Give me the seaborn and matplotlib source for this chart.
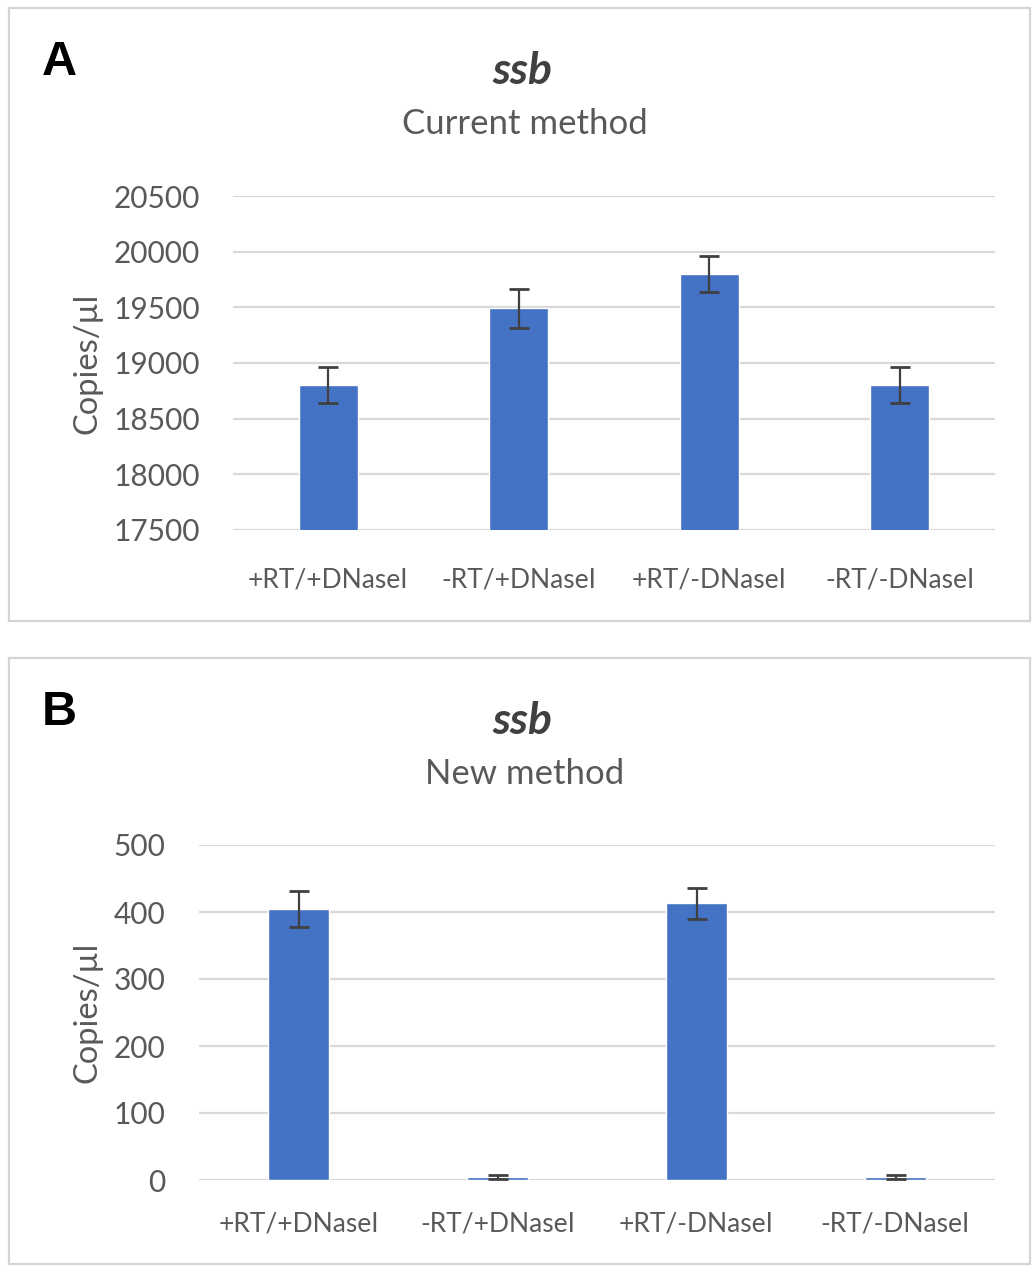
import matplotlib
matplotlib.use("Agg")
import matplotlib.pyplot as plt
import matplotlib.transforms as mtransforms
import seaborn as sns
import pandas as pd
from matplotlib.patches import Rectangle

categories = ["+RT/+DNaseI", "-RT/+DNaseI", "+RT/-DNaseI", "-RT/-DNaseI"]
current_values = [18800, 19490, 19800, 18800]
current_errors = [160, 175, 158, 160]
new_values = [405, 5, 413, 5]
new_errors = [27, 3, 23, 3]
current_ticks = [17500, 18000, 18500, 19000, 19500, 20000, 20500]
new_ticks = [0, 100, 200, 300, 400, 500]

sns.set_theme(style="white")
plt.rcParams["font.family"] = ["Lato", "DejaVu Sans"]

W, H = 1033, 1266
fig = plt.figure(figsize=(W / 100, H / 100), dpi=100)
fig.patch.set_facecolor("white")

BAR = "#4472C4"
GRID = "#D9D9D9"
TXT = "#595959"


def fx(px):
    return px / W


def fy(py):
    return 1 - py / H


def panel(df_vals, errs, ticks, ylim, axrect, box, letter, subtitle, off, xpad):
    x0, y0, x1, y1 = box
    fig.patches.append(Rectangle((fx(x0), fy(y1)), fx(x1) - fx(x0), fy(y0) - fy(y1),
                                 transform=fig.transFigure, fill=False,
                                 edgecolor="#D4D4D4", linewidth=1.6))
    ax = fig.add_axes(axrect)
    df = pd.DataFrame({"cat": categories, "val": df_vals})
    sns.barplot(data=df, x="cat", y="val", color=BAR, saturation=1,
                width=0.31, errorbar=None, ax=ax, zorder=3)
    ax.errorbar(range(len(categories)), df_vals, yerr=errs, fmt="none",
                ecolor="#404040", elinewidth=1.6, capsize=7, capthick=2, zorder=4)
    ax.set_xlim(-0.5, len(categories) - 0.5)
    ax.set_ylim(*ylim)
    ax.set_yticks(ticks)
    ax.set_yticklabels([str(t) for t in ticks])
    ax.yaxis.grid(True, color=GRID, linewidth=1.6, zorder=0)
    ax.set_axisbelow(True)
    for s in ax.spines.values():
        s.set_visible(False)
    ax.tick_params(axis="both", length=0, labelcolor=TXT)
    ax.tick_params(axis="y", pad=24, labelsize=21.5)
    ax.tick_params(axis="x", pad=xpad, labelsize=19)
    ax.set_xlabel("")
    ax.set_ylabel("Copies/µl", fontsize=23.5, color=TXT)
    trans = mtransforms.blended_transform_factory(fig.transFigure, ax.transAxes)
    ax.yaxis.set_label_coords(fx(102), 0.5, transform=trans)
    fig.text(fx(42), fy(75 + off), letter, fontsize=35, fontweight="bold",
             color="black", family=["Liberation Sans", "DejaVu Sans"], ha="left", va="baseline")
    fig.text(fx(522), fy(84 + off), "ssb", fontsize=32, fontweight="bold",
             style="italic", color="#404040", ha="center", va="baseline")
    fig.text(fx(525), fy(134 + off), subtitle, fontsize=25, color=TXT,
             ha="center", va="baseline")
    return ax


axA = panel(current_values, current_errors, current_ticks, (17500, 20500),
            [fx(233), fy(530), fx(995) - fx(233), fy(196) - fy(530)],
            (9, 8, 1030, 621), "A", "Current method", 0, 27)
axB = panel(new_values, new_errors, new_ticks, (0, 500),
            [fx(199), fy(1180), fx(995) - fx(199), fy(845) - fy(1180)],
            (9, 658, 1030, 1264), "B", "New method", 650, 23)

fig.savefig("out.png", dpi=100, facecolor="white")
